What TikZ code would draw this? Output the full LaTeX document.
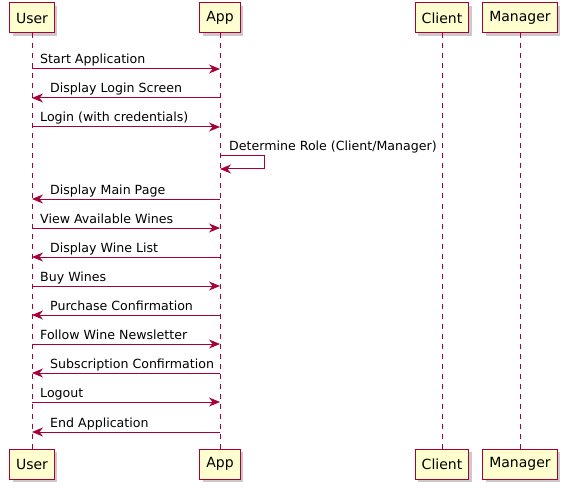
\documentclass[tikz,border=0pt]{standalone}
\usepackage{fontspec}
\setmainfont{DejaVu Sans}
\usetikzlibrary{arrows.meta,shadows}

\definecolor{umlred}{HTML}{A80036}
\definecolor{umlfill}{HTML}{FEFECE}

\tikzset{
  actor/.style={draw=umlred, fill=umlfill, line width=1pt, minimum height=30pt,
    inner xsep=6.5pt, font=\fontsize{14}{16}\selectfont,
    drop shadow={shadow xshift=3pt, shadow yshift=-3pt, fill=black!35, opacity=0.6}},
  lifeline/.style={umlred, line width=0.9pt, dash pattern=on 5pt off 5pt},
  msg/.style={umlred, line width=1pt, -{Stealth[length=11pt, width=9pt, inset=3.5pt]}},
  msgtext/.style={anchor=base west, inner sep=0pt, text=black, font=\fontsize{12.6}{15}\selectfont},
}

\begin{document}
\begin{tikzpicture}[x=1pt, y=-1pt]
  \useasboundingbox (0,0) rectangle (567,489);

  % Participants (top and bottom)
  \node[actor] (userT)    at (32,18)  {User};
  \node[actor] (appT)     at (220,18) {App};
  \node[actor] (clientT)  at (442,18) {Client};
  \node[actor] (managerT) at (520,18) {Manager};
  \node[actor] (userB)    at (32,464)  {User};
  \node[actor] (appB)     at (220,464) {App};
  \node[actor] (clientB)  at (442,464) {Client};
  \node[actor] (managerB) at (520,464) {Manager};

  % Lifelines
  \draw[lifeline] (userT) -- (userB);
  \draw[lifeline] (appT) -- (appB);
  \draw[lifeline] (clientT) -- (clientB);
  \draw[lifeline] (managerT) -- (managerB);

  % Message end points on the lifelines
  \coordinate (u1) at (32,69);   \coordinate (a1) at (220,69);
  \coordinate (u2) at (32,98);   \coordinate (a2) at (220,98);
  \coordinate (u3) at (32,127);  \coordinate (a3) at (220,127);
  \coordinate (s1) at (220,156); \coordinate (s2) at (264,156);
  \coordinate (s3) at (264,169); \coordinate (s4) at (220,169);
  \coordinate (u5) at (32,199);  \coordinate (a5) at (220,199);
  \coordinate (u6) at (32,228);  \coordinate (a6) at (220,228);
  \coordinate (u7) at (32,257);  \coordinate (a7) at (220,257);
  \coordinate (u8) at (32,286);  \coordinate (a8) at (220,286);
  \coordinate (u9) at (32,315);  \coordinate (a9) at (220,315);
  \coordinate (u10) at (32,344); \coordinate (a10) at (220,344);
  \coordinate (u11) at (32,373); \coordinate (a11) at (220,373);
  \coordinate (u12) at (32,402); \coordinate (a12) at (220,402);
  \coordinate (u13) at (32,432); \coordinate (a13) at (220,432);

  % Messages
  \draw[msg] (u1) -- (a1);
  \node[msgtext] (t1) at (40,64) {Start Application};
  \draw[msg] (a2) -- (u2);
  \node[msgtext] (t2) at (50,93) {Display Login Screen};
  \draw[msg] (u3) -- (a3);
  \node[msgtext] (t3) at (40,122) {Login (with credentials)};
  \draw[msg] (s1) -- (s2) -- (s3) -- (s4);
  \node[msgtext] (t4) at (229,151) {Determine Role (Client/Manager)};
  \draw[msg] (a5) -- (u5);
  \node[msgtext] (t5) at (50,194) {Display Main Page};
  \draw[msg] (u6) -- (a6);
  \node[msgtext] (t6) at (40,223) {View Available Wines};
  \draw[msg] (a7) -- (u7);
  \node[msgtext] (t7) at (50,252) {Display Wine List};
  \draw[msg] (u8) -- (a8);
  \node[msgtext] (t8) at (40,281) {Buy Wines};
  \draw[msg] (a9) -- (u9);
  \node[msgtext] (t9) at (50,310) {Purchase Confirmation};
  \draw[msg] (u10) -- (a10);
  \node[msgtext] (t10) at (40,339) {Follow Wine Newsletter};
  \draw[msg] (a11) -- (u11);
  \node[msgtext] (t11) at (50,368) {Subscription Confirmation};
  \draw[msg] (u12) -- (a12);
  \node[msgtext] (t12) at (40,397) {Logout};
  \draw[msg] (a13) -- (u13);
  \node[msgtext] (t13) at (50,427) {End Application};
\end{tikzpicture}
\end{document}
